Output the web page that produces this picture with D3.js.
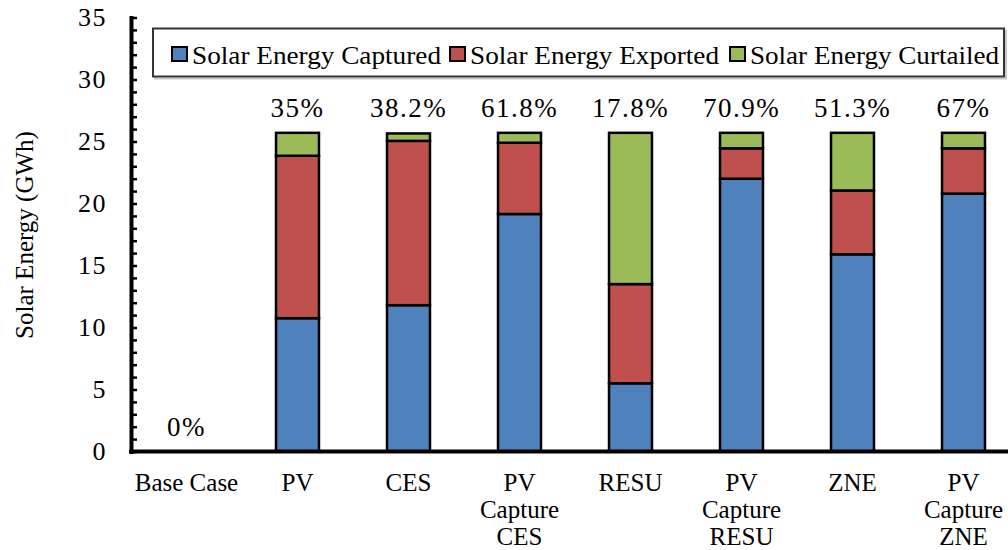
<!DOCTYPE html>
<html>
<head>
<meta charset="utf-8">
<script src="https://cdn.jsdelivr.net/npm/d3@7"></script>
<style>
  html, body { margin: 0; padding: 0; background: #fff; }
  svg { display: block; }
  svg text { font-family: "Liberation Serif", "Times New Roman", serif !important; fill: #000; }
</style>
</head>
<body>
<svg id="chart" width="1008" height="550"></svg>
<script>
// categories (line breaks as in the picture)
var categories = ["Base Case", "PV", "CES", "PV\nCapture\nCES", "RESU", "PV\nCapture\nRESU", "ZNE", "PV\nCapture\nZNE"];
var captured  = [0, 10.75, 11.8, 19.15, 5.5, 22.0, 15.9, 20.8];
var exported  = [0, 13.1, 13.25, 5.75, 8.0, 2.45, 5.15, 3.65];
var curtailed = [0, 1.85, 0.6, 0.8, 12.2, 1.25, 4.65, 1.25];
var pctLabels = ["0%", "35%", "38.2%", "61.8%", "17.8%", "70.9%", "51.3%", "67%"];
var seriesNames = ["Solar Energy Captured", "Solar Energy Exported", "Solar Energy Curtailed"];
var seriesColors = ["#4F81BD", "#C0504D", "#9BBB59"];
var yTicks = d3.range(0, 36, 1);

var svg = d3.select("#chart");
var keys = ["captured", "exported", "curtailed"];
var rows = categories.map((c, i) => ({
    cat: c,
    captured: captured[i],
    exported: exported[i],
    curtailed: curtailed[i],
    pct: pctLabels[i]
}));

var x = d3.scaleBand()
    .domain(categories)
    .range([131, 1019])
    .paddingInner(0.613)
    .paddingOuter(0.3065);

var y = d3.scaleLinear()
    .domain([0, 35])
    .range([451.5, 17.5]);

var color = d3.scaleOrdinal().domain(keys).range(seriesColors);

// stacked bars
var stacked = d3.stack().keys(keys)(rows);
var gBars = svg.append("g")
    .attr("stroke", "#000")
    .attr("stroke-width", 2.5);
gBars.selectAll("g")
    .data(stacked)
    .join("g")
    .attr("fill", d => color(d.key))
    .selectAll("rect")
    .data(d => d.filter(s => s[1] - s[0] > 0))
    .join("rect")
    .attr("x", d => x(d.data.cat))
    .attr("width", x.bandwidth())
    .attr("y", d => y(d[1]))
    .attr("height", d => y(d[0]) - y(d[1]));

// percentage labels above the bars
svg.append("g")
    .attr("font-size", 27)
    .attr("text-anchor", "middle")
    .attr("letter-spacing", 1.5)
    .selectAll("text")
    .data(rows)
    .join("text")
    .attr("x", d => x(d.cat) + x.bandwidth() / 2)
    .attr("y", d => y(d.captured + d.exported + d.curtailed) - 16)
    .text(d => d.pct);

// y axis, ticks pointing inward
var yAxis = svg.append("g")
    .attr("transform", "translate(131,0)")
    .call(d3.axisLeft(y)
        .tickValues(yTicks)
        .tickSizeInner(-6)
        .tickSizeOuter(0)
        .tickPadding(24)
        .tickFormat(d => d % 5 === 0 ? d : ""));
yAxis.select(".domain")
    .attr("stroke", "#000")
    .attr("stroke-width", 4)
    .attr("stroke-linecap", "square");
yAxis.selectAll(".tick line")
    .attr("stroke", "#000")
    .attr("stroke-width", 2.5);
yAxis.selectAll(".tick text")
    .attr("font-size", 26)
    .attr("letter-spacing", 1.5);

// x axis baseline
svg.append("line")
    .attr("x1", 129).attr("x2", 1010)
    .attr("y1", y(0)).attr("y2", y(0))
    .attr("stroke", "#000")
    .attr("stroke-width", 4);

// category labels
var catText = svg.append("g")
    .attr("font-size", 25)
    .attr("text-anchor", "middle")
    .selectAll("text")
    .data(categories)
    .join("text")
    .attr("x", d => x(d) + x.bandwidth() / 2)
    .attr("y", 491);
catText.selectAll("tspan")
    .data(d => d.split("\n").map(t => ({ t: t, x: x(d) + x.bandwidth() / 2 })))
    .join("tspan")
    .attr("x", d => d.x)
    .attr("dy", (d, i) => i === 0 ? 0 : 27)
    .text(d => d.t);

// y title
svg.append("text")
    .attr("transform", "translate(33,235) rotate(-90)")
    .attr("text-anchor", "middle")
    .attr("font-size", 25)
    .text("Solar Energy (GWh)");

// legend box with a soft shadow
var legend = svg.append("g");
legend.append("rect")
    .attr("x", 155).attr("y", 30.5)
    .attr("width", 851).attr("height", 48)
    .attr("fill", "none")
    .attr("stroke", "#c8c8c8")
    .attr("stroke-width", 2);
legend.append("rect")
    .attr("x", 153).attr("y", 28.5)
    .attr("width", 851).attr("height", 48)
    .attr("fill", "#fff")
    .attr("stroke", "#333")
    .attr("stroke-width", 2);

var legendX = [172, 450, 730];
var item = legend.selectAll("g.item")
    .data(seriesNames)
    .join("g")
    .attr("class", "item")
    .attr("transform", (d, i) => `translate(${legendX[i]},0)`);
item.append("rect")
    .attr("x", 0).attr("y", 47)
    .attr("width", 15).attr("height", 14)
    .attr("fill", (d, i) => seriesColors[i])
    .attr("stroke", "#000")
    .attr("stroke-width", 2);
item.append("text")
    .attr("x", 20).attr("y", 64)
    .attr("font-size", 26)
    .attr("textLength", 249)
    .attr("lengthAdjust", "spacingAndGlyphs")
    .text(d => d);
</script>
</body>
</html>
